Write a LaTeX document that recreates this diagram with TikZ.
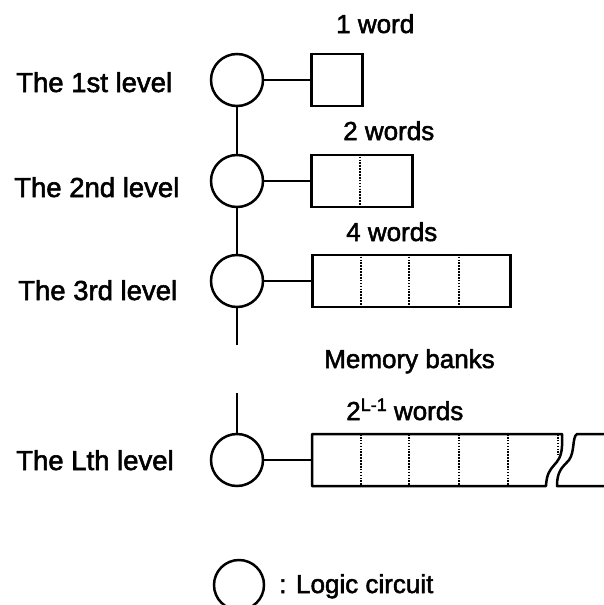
\documentclass[tikz,border=0pt]{standalone}
\usepackage{fontspec}
\setmainfont{Liberation Sans}
\newfontfamily\lblfont{Liberation Sans}[FakeBold=2]
\begin{document}
\begin{tikzpicture}[x=1pt,y=-1pt, line width=2.5pt,
  logic/.style={circle, draw, minimum size=52pt, inner sep=0pt},
  bank/.style={draw, minimum height=52pt, inner sep=0pt, anchor=west},
  divider/.style={line width=2pt, dash pattern=on 1.6pt off 1.3pt},
  lbl/.style={anchor=base west, inner sep=0pt, font=\lblfont\fontsize{26}{28}\selectfont},
  lvl/.style={lbl, font=\lblfont\fontsize{27.5}{29}\selectfont}]
\useasboundingbox (0,0) rectangle (603,605);

% logic circuits
\node[logic] (c1) at (237,80) {};
\node[logic] (c2) at (237,181) {};
\node[logic] (c3) at (237,281) {};
\node[logic] (c4) at (237,460) {};
\coordinate (e3) at (237,345);
\coordinate (s4) at (237,393);

\draw (c1.south) -- (c2.north);
\draw (c2.south) -- (c3.north);
\draw (c3.south) -- (e3);
\draw (s4) -- (c4.north);

% memory banks
\node[bank, minimum width=51pt] (b1) at (310,80) {};
\node[bank, minimum width=101pt] (b2) at (310,181) {};
\node[bank, minimum width=198pt] (b3) at (311,281) {};
\coordinate (b4) at (312,460);

\draw[divider] ([xshift=50pt]b2.north west) -- ([xshift=50pt]b2.south west);
\foreach \d in {50,98,148}
  \draw[divider] ([xshift=\d pt]b3.north west) -- ([xshift=\d pt]b3.south west);

% L-th bank with break
\draw[line join=round] (562,434) -- (312,434) -- (312,486) -- (546,486)
  .. controls (547,462) and (561,468) .. (562,446) -- cycle;
\draw[line join=round] (606,434) -- (577,434)
  .. controls (572,437) and (575,452) .. (569,460)
  .. controls (563,467) and (557,470) .. (557,486) -- (606,486);
\foreach \x in {361,409,459,508}
  \draw[divider] (\x,434) -- (\x,486);
\draw[divider] (558,434) -- (558,455);

\draw (c1.east) -- (b1.west);
\draw (c2.east) -- (b2.west);
\draw (c3.east) -- (b3.west);
\draw (c4.east) -- (b4);

% labels
\node[lvl] (l1) at (15,92) {The 1st level};
\node[lvl] (l2) at (13,197) {The 2nd level};
\node[lvl] (l3) at (17,300) {The 3rd level};
\node[lvl] (l4) at (15,470) {The Lth level};

\node[lbl] (w1) at (335,33) {1 word};
\node[lbl] (w2) at (342,140) {2 words};
\node[lbl] (w3) at (345,241) {4 words};
\node[lbl] (mb) at (323,368) {Memory banks};
\node[lbl] (w4) at (345,420) {2\raisebox{9pt}{\fontsize{18}{18}\selectfont L-1} words};

% legend
\node[logic, minimum size=50pt] (cl) at (239,585) {};
\node[lbl] (lg) at (278,593) {: Logic circuit};
\end{tikzpicture}
\end{document}
